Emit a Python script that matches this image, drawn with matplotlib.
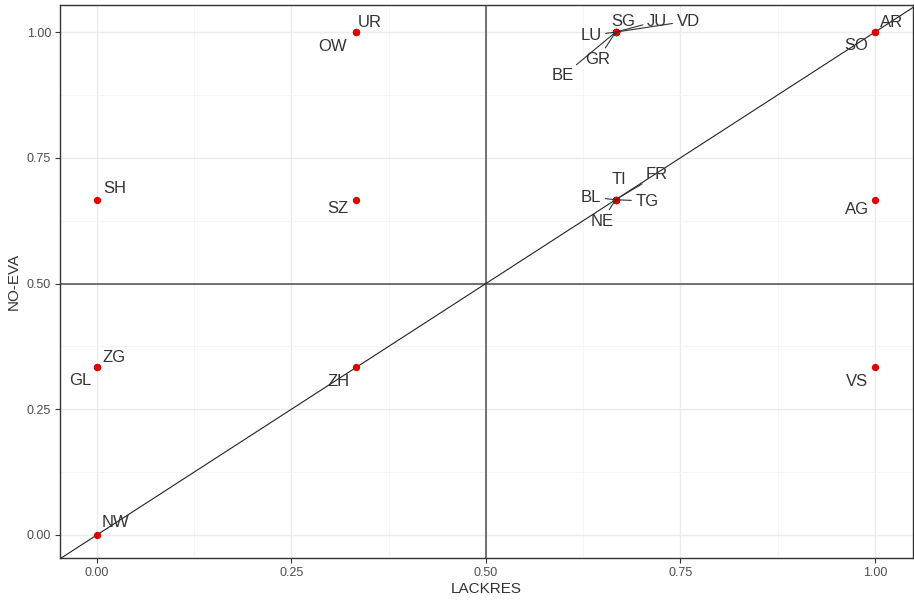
import matplotlib.pyplot as plt
from matplotlib.ticker import MultipleLocator

plt.rcParams["font.family"] = ["Liberation Sans", "DejaVu Sans"]

# canton scores
cantons = ["UR", "OW", "SH", "SZ", "ZG", "GL", "ZH", "NW",
           "SG", "JU", "VD", "LU", "GR", "BE",
           "AR", "SO", "TI", "FR", "BL", "TG", "NE", "AG", "VS"]
lackres = [1/3, 1/3, 0, 1/3, 0, 0, 1/3, 0,
           2/3, 2/3, 2/3, 2/3, 2/3, 2/3,
           1, 1, 2/3, 2/3, 2/3, 2/3, 2/3, 1, 1]
no_eva = [1, 1, 2/3, 2/3, 1/3, 1/3, 1/3, 0,
          1, 1, 1, 1, 1, 1,
          1, 1, 2/3, 2/3, 2/3, 2/3, 2/3, 2/3, 1/3]

# where the repelled labels ended up (data units)
label_x = [0.351, 0.303, 0.023, 0.310, 0.022, -0.021, 0.310, 0.024,
           0.676, 0.720, 0.760, 0.635, 0.644, 0.599,
           1.021, 0.976, 0.671, 0.720, 0.635, 0.707, 0.649, 0.977, 0.977]
label_y = [1.020, 0.972, 0.688, 0.650, 0.352, 0.308, 0.306, 0.024,
           1.022, 1.022, 1.022, 0.994, 0.946, 0.913,
           1.020, 0.974, 0.706, 0.716, 0.672, 0.664, 0.624, 0.648, 0.306]
with_segment = {"JU", "VD", "LU", "GR", "BE", "FR", "BL", "TG", "NE"}

fig = plt.figure(figsize=(9.14, 6.03), dpi=100)
ax = fig.add_axes([60 / 914, 45 / 603, 853 / 914, 553 / 603])
ax.set_axisbelow(True)

ax.set_xlim(-0.0476, 1.049)
ax.set_ylim(-0.046, 1.054)

ax.xaxis.set_major_locator(MultipleLocator(0.25))
ax.yaxis.set_major_locator(MultipleLocator(0.25))
ax.xaxis.set_minor_locator(MultipleLocator(0.125))
ax.yaxis.set_minor_locator(MultipleLocator(0.125))
ax.grid(which="major", color="#ebebeb", lw=1.0)
ax.grid(which="minor", color="#f4f4f4", lw=0.6)
ax.tick_params(which="minor", length=0)
ax.tick_params(which="major", length=3.5, color="#333333", labelsize=9,
               labelcolor="#4d4d4d", pad=3)
ax.xaxis.set_major_formatter(lambda v, p: f"{v:.2f}")
ax.yaxis.set_major_formatter(lambda v, p: f"{v:.2f}")
for s in ax.spines.values():
    s.set_color("#333333")
    s.set_linewidth(1.0)

ax.axhline(0.5, color="#4d4d4d", lw=1.1, zorder=2)
ax.axvline(0.5, color="#4d4d4d", lw=1.1, zorder=2)
ax.axline((0, 0), slope=1, color="#222222", lw=0.8, zorder=2)

ax.scatter(lackres, no_eva, s=18, color="#e00000", zorder=3)

for name, px, py, lx, ly in zip(cantons, lackres, no_eva, label_x, label_y):
    if name in with_segment:
        ax.annotate(name, xy=(px, py), xytext=(lx, ly), ha="center",
                    va="center", fontsize=12, color="#333333", zorder=4,
                    arrowprops=dict(arrowstyle="-", color="#333333",
                                    lw=0.8, shrinkA=1, shrinkB=0))
    else:
        ax.text(lx, ly, name, ha="center", va="center", fontsize=12,
                color="#333333", zorder=4)

ax.set_xlabel("LACKRES", fontsize=11, color="#333333", labelpad=2)
ax.set_ylabel("NO-EVA", fontsize=11, color="#333333", labelpad=4)

fig.savefig("out.png", dpi=100)
